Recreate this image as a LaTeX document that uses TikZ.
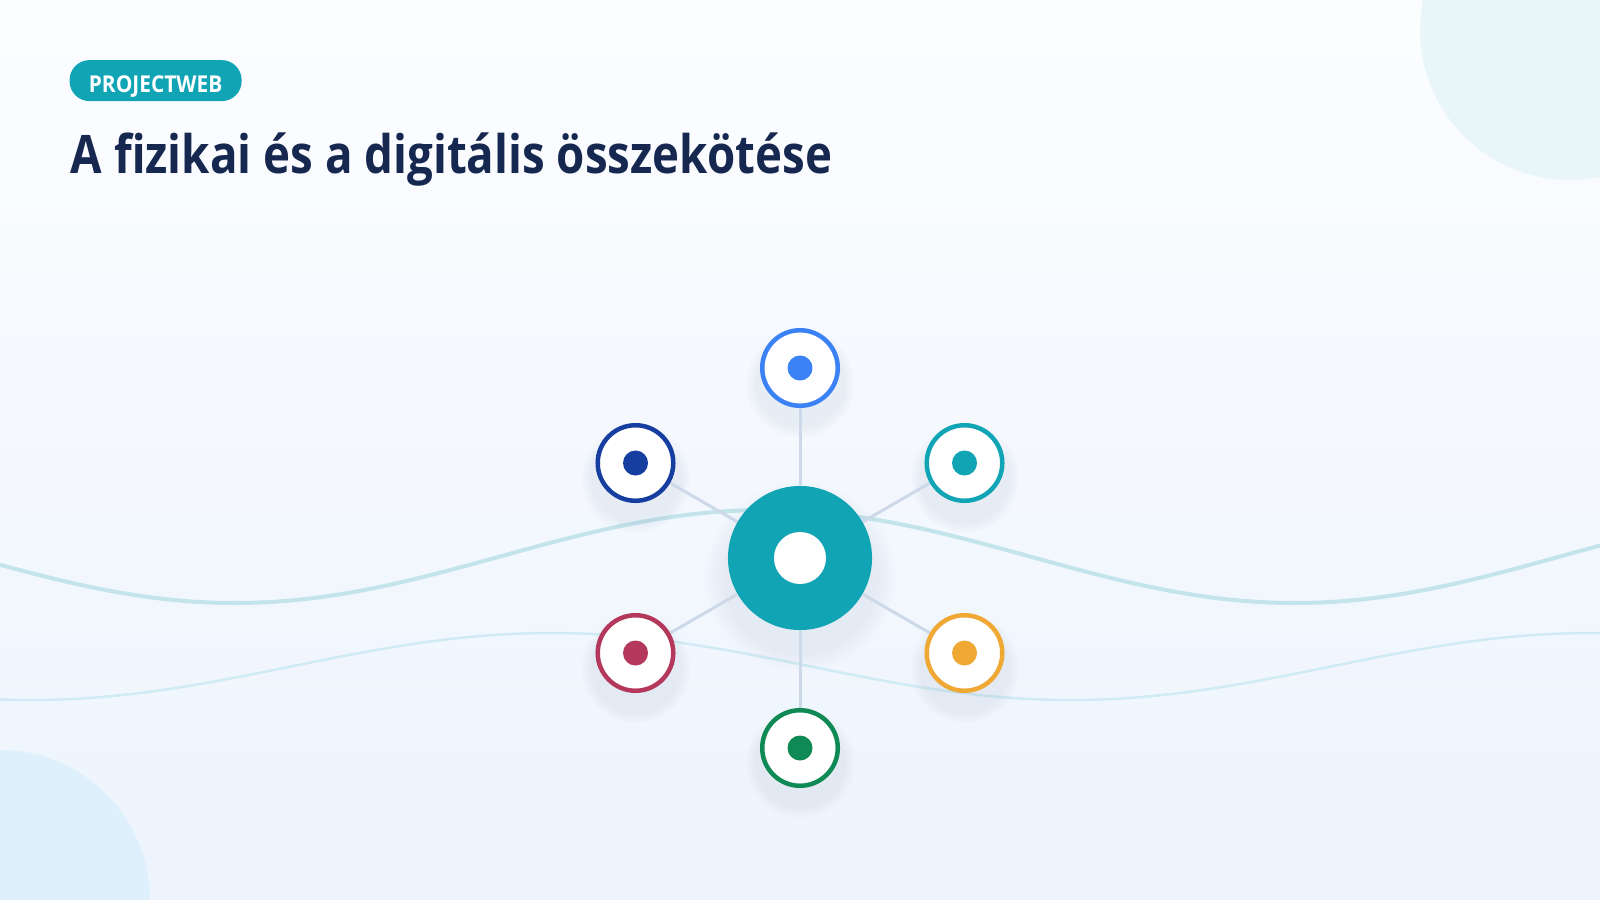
\documentclass[tikz,border=0pt]{standalone}
\usepackage{fontspec}
\setmainfont{Open Sans}
\newfontfamily\titlefont[FakeStretch=0.86]{Open Sans}
\newfontfamily\pillfont[FakeStretch=0.9]{Open Sans}
\usetikzlibrary{fadings}
\pgfdeclarelayer{back}
\pgfdeclarelayer{shadelayer}
\pgfdeclarelayer{links}
\pgfsetlayers{back,shadelayer,links,main}
\definecolor{teal}{RGB}{17,164,180}
\definecolor{navy}{RGB}{22,40,80}
\definecolor{cblue}{RGB}{59,130,246}
\definecolor{cdark}{RGB}{22,62,160}
\definecolor{ccrim}{RGB}{180,56,92}
\definecolor{corange}{RGB}{240,168,52}
\definecolor{cgreen}{RGB}{16,138,85}
\definecolor{conncol}{RGB}{205,217,232}
\definecolor{waveA}{RGB}{196,228,236}
\definecolor{waveB}{RGB}{208,235,243}
\definecolor{bgtop}{RGB}{252,253,255}
\definecolor{bgbot}{RGB}{237,244,253}
\definecolor{decoA}{RGB}{233,246,249}
\definecolor{decoB}{RGB}{222,240,251}
\definecolor{shadowcol}{RGB}{100,116,150}
\tikzset{
  sat/.style={circle, draw=#1, line width=1.28pt, fill=white, minimum size=0.755cm, inner sep=0pt},
  satdot/.style={circle, fill=#1, minimum size=0.25cm, inner sep=0pt},
  hub/.style={circle, fill=teal, minimum size=1.44cm, inner sep=0pt},
  hubdot/.style={circle, fill=white, minimum size=0.52cm, inner sep=0pt},
  link/.style={draw=conncol, line width=0.85pt},
  pill/.style={fill=teal, rounded corners=0.2cm, minimum width=1.72cm, minimum height=0.41cm, inner sep=0pt, text height=7pt, text depth=0pt, text=white, font=\pillfont\bfseries\fontsize{6.6pt}{8pt}\selectfont},
  titletext/.style={text=navy, inner sep=0pt, font=\titlefont\bfseries\fontsize{15.1pt}{18pt}\selectfont},
  softshadow/.style={fill=shadowcol, opacity=0.09, path fading=circle with fuzzy edge 20 percent}
}
\begin{document}
\begin{tikzpicture}[x=0.01cm,y=-0.01cm]
\useasboundingbox (0,0) rectangle (1600,900);
\begin{pgfonlayer}{back}
\shade[top color=bgtop, bottom color=bgbot] (0,0) rectangle (1600,900);
\begin{scope}
\clip (0,0) rectangle (1600,900);
\fill[decoA] (1570,30) circle (150);
\fill[decoB] (0,900) circle (150);
\end{scope}
\draw[waveA, line width=1.14pt] plot[domain=0:1600, samples=160, smooth] (\x, {556.5 - 46.5*cos(((\x-765)/1060)*360)});
\draw[waveB, line width=0.71pt] plot[domain=0:1600, samples=160, smooth] (\x, {666.5 + 33.5*cos(((\x-31)/1040)*360)});
\end{pgfonlayer}

\node[pill] (tag) at (155.6,80.6) {PROJECTWEB};
\node[titletext, anchor=base west] (title) at (70,173.5) {A fizikai és a digitális összekötése};

\node[hub] (c) at (800,558) {};
\node[hubdot] (cd) at (800,558) {};

\node[sat=cblue] (n1) at (800,368) {};
\node[satdot=cblue] (d1) at (800,368) {};
\node[sat=teal] (n2) at (964.5,463) {};
\node[satdot=teal] (d2) at (964.5,463) {};
\node[sat=corange] (n3) at (964.5,653) {};
\node[satdot=corange] (d3) at (964.5,653) {};
\node[sat=cgreen] (n4) at (800,748) {};
\node[satdot=cgreen] (d4) at (800,748) {};
\node[sat=ccrim] (n5) at (635.5,653) {};
\node[satdot=ccrim] (d5) at (635.5,653) {};
\node[sat=cdark] (n6) at (635.5,463) {};
\node[satdot=cdark] (d6) at (635.5,463) {};

\begin{pgfonlayer}{shadelayer}
\fill[softshadow] (800,576) circle (95);
\foreach \p in {(800,383),(964.5,478),(964.5,668),(800,763),(635.5,668),(635.5,478)}
  \fill[softshadow] \p circle (55);
\end{pgfonlayer}

\begin{pgfonlayer}{links}
\foreach \n in {n1,n2,n3,n4,n5,n6}
  \draw[link] (c) -- (\n);
\end{pgfonlayer}
\end{tikzpicture}
\end{document}
